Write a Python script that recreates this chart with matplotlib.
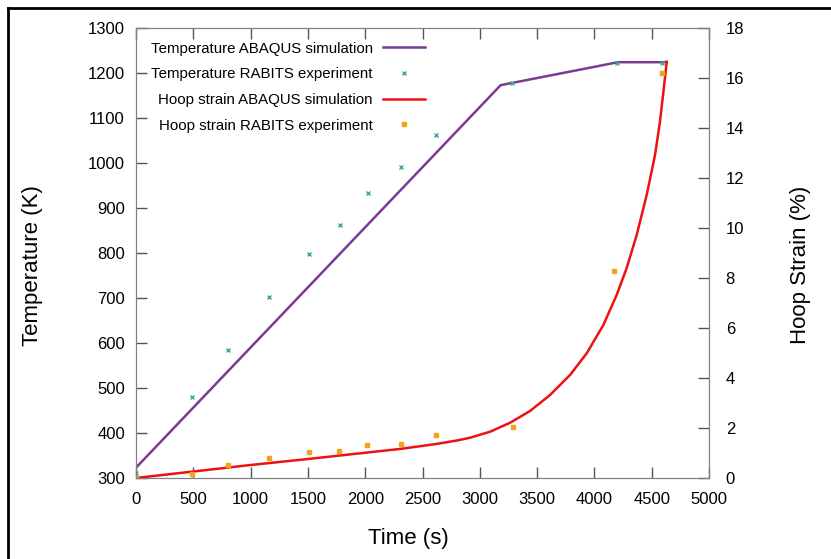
import matplotlib
matplotlib.use('Agg')
import matplotlib.pyplot as plt
from matplotlib.lines import Line2D

plt.rcParams['font.family'] = ['Liberation Sans', 'DejaVu Sans']

# temperature, ABAQUS simulation
t_sim = [0, 3182, 4206, 4631]
T_sim = [323, 1173, 1224, 1224]

# temperature, RABITS experiment
t_exp = [0, 486, 800, 1163, 1510, 1780, 2020, 2315, 2620, 3285, 4194, 4587]
T_exp = [311, 479, 585, 703, 798, 862, 933, 991, 1062, 1178, 1223, 1223]

# hoop strain, ABAQUS simulation
ts_sim = [0, 500, 1000, 1500, 2000, 2300, 2618, 2800, 2914, 3089, 3264,
          3438, 3613, 3787, 3933, 4078, 4194, 4281, 4369, 4456, 4529,
          4572, 4602, 4631]
s_sim = [0, 0.26, 0.52, 0.76, 1.01, 1.16, 1.36, 1.5, 1.61, 1.85, 2.21,
         2.68, 3.32, 4.12, 4.99, 6.12, 7.32, 8.39, 9.72, 11.32, 12.92,
         14.25, 15.45, 16.65]

# hoop strain, RABITS experiment
ts_exp = [0, 486, 800, 1163, 1510, 1771, 2018, 2312, 2618, 3287, 4171, 4587]
s_exp = [0.05, 0.15, 0.52, 0.79, 1.04, 1.08, 1.32, 1.37, 1.71, 2.05, 8.28, 16.2]

purple = '#7b3a96'
red = '#ee1111'
green = '#3aaa88'
orange = '#f2a31e'
gray = '#808080'

fig = plt.figure(figsize=(8.31, 5.59), dpi=100)
ax = fig.add_axes([0.1637, 0.1449, 0.6895, 0.805])
ax2 = ax.twinx()

ax.plot(t_sim, T_sim, color=purple, lw=1.8)
ax.plot(t_exp, T_exp, ls='none', marker='x', ms=3.5, mew=1, color=green)
ax2.plot(ts_sim, s_sim, color=red, lw=1.8)
ax2.plot(ts_exp, s_exp, ls='none', marker='s', ms=2.5, color=orange)

ax.set_xlim(0, 5000)
ax.set_ylim(300, 1300)
ax2.set_ylim(0, 18)
ax.set_xticks(range(0, 5001, 500))
ax.set_yticks(range(300, 1301, 100))
ax2.set_yticks(range(0, 19, 2))

for a in (ax, ax2):
    for s in a.spines.values():
        s.set_color(gray)
ax.tick_params(axis='both', direction='in', length=8, width=1, color='#555555',
               labelsize=12, top=True, pad=8)
ax.tick_params(axis='x', pad=10)
ax2.tick_params(axis='y', direction='in', length=8, width=1, color='#555555',
                labelsize=12, pad=12)

ax.set_xlabel('Time (s)', fontsize=16)
ax.xaxis.set_label_coords(0.475, -0.111)
ax.set_ylabel('Temperature (K)', fontsize=16)
ax.yaxis.set_label_coords(-0.162, 0.473)
ax2.set_ylabel('Hoop Strain (%)', fontsize=16)
ax2.yaxis.set_label_coords(1.141, 0.473)

handles = [
    Line2D([], [], color=purple, lw=1.8),
    Line2D([], [], ls='none', marker='x', ms=3.5, mew=1, color=green),
    Line2D([], [], color=red, lw=1.8),
    Line2D([], [], ls='none', marker='s', ms=2.5, color=orange),
]
labels = ['Temperature ABAQUS simulation', 'Temperature RABITS experiment',
          'Hoop strain ABAQUS simulation', 'Hoop strain RABITS experiment']
ax.legend(handles, labels, loc='upper left', bbox_to_anchor=(0.002, 1.0),
          frameon=False, markerfirst=False, fontsize=10.8, handlelength=2.8,
          labelspacing=0.78, handletextpad=0.68)

# screenshot border on top and left
fig.add_artist(Line2D([0.0096, 1.0], [0.986, 0.986], color='black', lw=2,
                      transform=fig.transFigure))
fig.add_artist(Line2D([0.0096, 0.0096], [0.0, 0.986], color='black', lw=2,
                      transform=fig.transFigure))

fig.savefig('out.png', dpi=100)
